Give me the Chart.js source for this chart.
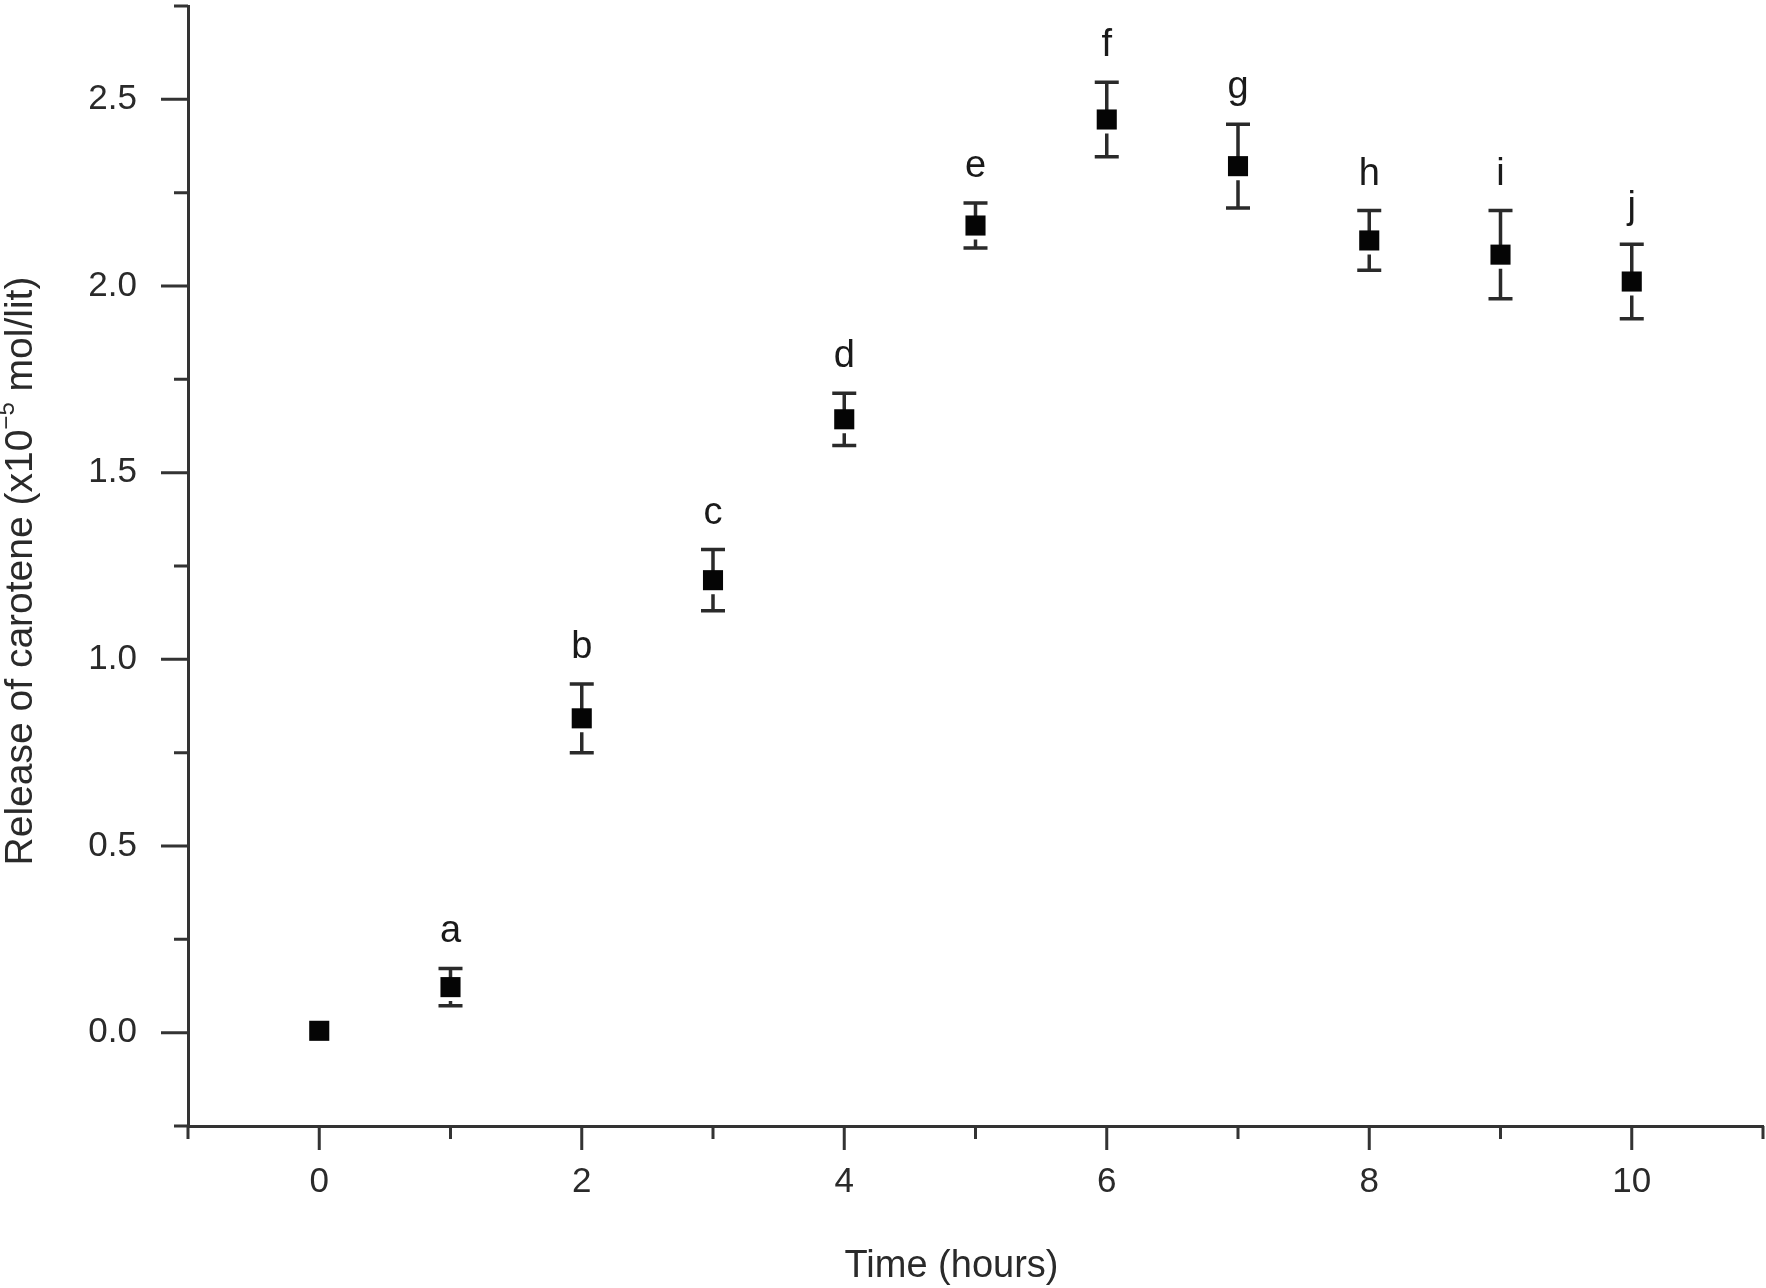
<!DOCTYPE html>
<html lang="en">
<head>
    <meta charset="UTF-8">
    <title>Release of carotene</title>
    <style>
        body {
            margin: 0;
            padding: 0;
            background-color: #ffffff;
        }

        .chart-box {
            width: 1766px;
            height: 1288px;
        }
    </style>
</head>
<body>
    <div class="chart-box">
        <canvas id="caroteneChart"></canvas>
    </div>

    <script src="https://cdn.jsdelivr.net/npm/chart.js"></script>
    <script>
        // Data
        const hours = [0, 1, 2, 3, 4, 5, 6, 7, 8, 9, 10];
        const release = [0.005, 0.122, 0.842, 1.212, 1.643, 2.162, 2.446, 2.321, 2.122, 2.084, 2.012];
        const errors = [0, 0.05, 0.092, 0.082, 0.07, 0.06, 0.1, 0.112, 0.08, 0.118, 0.1];
        const letters = ["", "a", "b", "c", "d", "e", "f", "g", "h", "i", "j"];

        const xTickValues = [-1, 0, 1, 2, 3, 4, 5, 6, 7, 8, 9, 10, 11];
        const xTickLabels = [null, "0", null, "2", null, "4", null, "6", null, "8", null, "10", null];
        const yTickValues = [-0.25, 0, 0.25, 0.5, 0.75, 1, 1.25, 1.5, 1.75, 2, 2.25, 2.5, 2.75];
        const yTickLabels = [null, "0.0", null, "0.5", null, "1.0", null, "1.5", null, "2.0", null, "2.5", null];

        const FONT = "'Liberation Sans', Arial, sans-serif";
        const INK = "#2a2a2a";

        // Ticks, error bars, letters and the axis titles
        const decor = {
            id: "decor",
            beforeDatasetsDraw(chart) {
                const ctx = chart.ctx;
                const xs = chart.scales.x;
                const ys = chart.scales.y;
                ctx.save();
                ctx.strokeStyle = INK;
                ctx.lineWidth = 3.5;
                hours.forEach((h, i) => {
                    if (!errors[i]) return;
                    const px = xs.getPixelForValue(h);
                    const py = ys.getPixelForValue(release[i]);
                    const top = ys.getPixelForValue(release[i] + errors[i]);
                    const bot = ys.getPixelForValue(release[i] - errors[i]);
                    ctx.beginPath();
                    ctx.moveTo(px, top);
                    ctx.lineTo(px, py);
                    ctx.moveTo(px, py + 14);
                    ctx.lineTo(px, bot);
                    ctx.moveTo(px - 12, top);
                    ctx.lineTo(px + 12, top);
                    ctx.moveTo(px - 12, bot);
                    ctx.lineTo(px + 12, bot);
                    ctx.stroke();
                });
                ctx.restore();
            },
            afterDraw(chart) {
                const ctx = chart.ctx;
                const xs = chart.scales.x;
                const ys = chart.scales.y;
                const area = chart.chartArea;
                ctx.save();
                ctx.strokeStyle = "#333";
                ctx.lineWidth = 3;
                ctx.beginPath();
                xTickValues.forEach((v, i) => {
                    const px = xs.getPixelForValue(v);
                    const len = xTickLabels[i] ? 24 : 13;
                    ctx.moveTo(px, area.bottom);
                    ctx.lineTo(px, area.bottom + len);
                });
                yTickValues.forEach((v, i) => {
                    const py = ys.getPixelForValue(v);
                    const len = yTickLabels[i] ? 27 : 14;
                    ctx.moveTo(area.left, py);
                    ctx.lineTo(area.left - len, py);
                });
                ctx.stroke();

                // letters above the error bars
                ctx.fillStyle = "#1a1a1a";
                ctx.font = "38px " + FONT;
                ctx.textAlign = "center";
                ctx.textBaseline = "alphabetic";
                hours.forEach((h, i) => {
                    if (!letters[i]) return;
                    const px = xs.getPixelForValue(h);
                    const top = ys.getPixelForValue(release[i] + errors[i]);
                    ctx.fillText(letters[i], px, top - 26);
                });

                // x axis title, sitting a little left of the axis centre as in the figure
                ctx.fillStyle = INK;
                ctx.font = "38px " + FONT;
                ctx.textBaseline = "middle";
                ctx.fillText("Time (hours)", (area.left + area.right) / 2 - 24, chart.height - 21);

                // y axis title with superscript
                const parts = [
                    { text: "Release of carotene (x10", size: 39, rise: 0 },
                    { text: "\u22125", size: 24, rise: 14 },
                    { text: " mol/lit)", size: 39, rise: 0 }
                ];
                let total = 0;
                parts.forEach(p => {
                    ctx.font = p.size + "px " + FONT;
                    p.w = ctx.measureText(p.text).width;
                    total += p.w;
                });
                ctx.translate(21, (area.top + area.bottom) / 2 + 5);
                ctx.rotate(-Math.PI / 2);
                ctx.textAlign = "left";
                ctx.textBaseline = "middle";
                let cx = -total / 2;
                parts.forEach(p => {
                    ctx.font = p.size + "px " + FONT;
                    ctx.fillText(p.text, cx, -p.rise);
                    cx += p.w;
                });
                ctx.restore();
            }
        };

        const ctx = document.getElementById("caroteneChart").getContext("2d");

        const chart = new Chart(ctx, {
            type: "scatter",
            data: {
                datasets: [{
                    label: "Release of carotene",
                    data: hours.map((h, i) => ({ x: h, y: release[i] })),
                    pointStyle: "rect",
                    pointRadius: 14.2,
                    pointHoverRadius: 14.2,
                    backgroundColor: "#050505",
                    borderColor: "#050505",
                    borderWidth: 0
                }]
            },
            options: {
                responsive: true,
                maintainAspectRatio: false,
                animation: false,
                layout: {
                    autoPadding: false,
                    padding: { top: 6, right: 3, left: 0, bottom: 0 }
                },
                plugins: {
                    legend: { display: false },
                    tooltip: { enabled: false }
                },
                scales: {
                    x: {
                        type: "linear",
                        min: -1,
                        max: 11,
                        afterFit: (scale) => {
                            scale.height = 162;
                            scale.paddingLeft = 0;
                            scale.paddingRight = 0;
                        },
                        afterBuildTicks: (scale) => {
                            scale.ticks = xTickValues.map(v => ({ value: v }));
                        },
                        grid: {
                            drawOnChartArea: false,
                            drawTicks: true,
                            tickLength: 25,
                            tickColor: "rgba(0,0,0,0)"
                        },
                        border: { display: true, color: "#333", width: 3 },
                        ticks: {
                            autoSkip: false,
                            maxRotation: 0,
                            padding: 10,
                            color: INK,
                            font: { family: FONT, size: 35 },
                            callback: (value, index) => xTickLabels[index]
                        }
                    },
                    y: {
                        type: "linear",
                        min: -0.25,
                        max: 2.75,
                        afterFit: (scale) => {
                            scale.width = 188;
                            scale.paddingTop = 0;
                            scale.paddingBottom = 0;
                        },
                        afterBuildTicks: (scale) => {
                            scale.ticks = yTickValues.map(v => ({ value: v }));
                        },
                        grid: {
                            drawOnChartArea: false,
                            drawTicks: true,
                            tickLength: 25,
                            tickColor: "rgba(0,0,0,0)"
                        },
                        border: { display: true, color: "#333", width: 3 },
                        ticks: {
                            autoSkip: false,
                            padding: 26,
                            color: INK,
                            font: { family: FONT, size: 35 },
                            callback: (value, index) => yTickLabels[index]
                        }
                    }
                }
            },
            plugins: [decor]
        });
    </script>
</body>
</html>
